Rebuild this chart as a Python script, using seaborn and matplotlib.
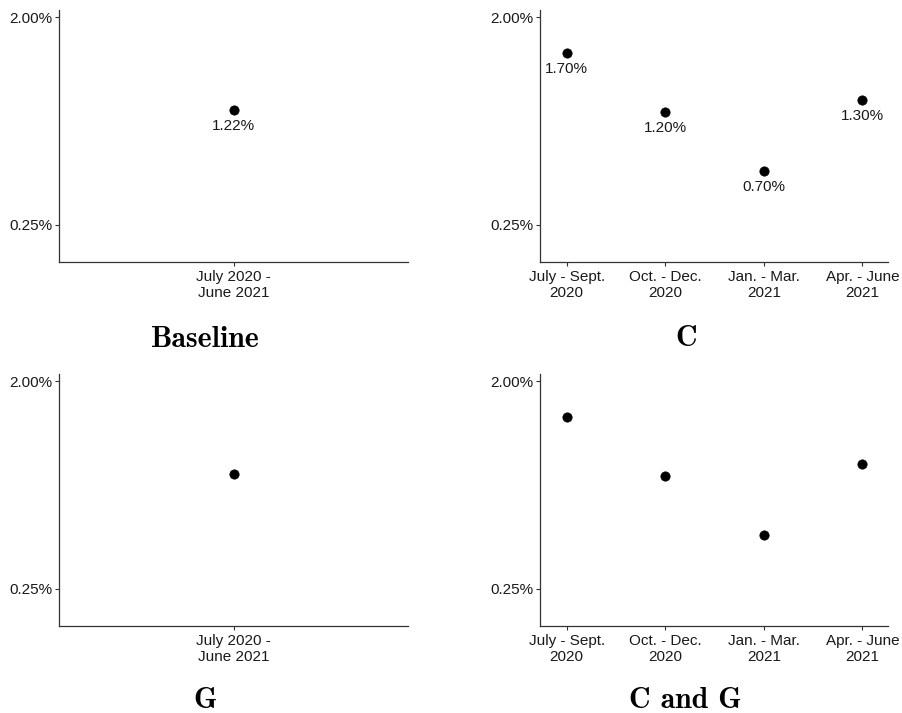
import matplotlib
matplotlib.use("Agg")
import matplotlib.pyplot as plt
import seaborn as sns
import pandas as pd

# данные
full_period = ["July 2020 -\nJune 2021"]
quarters = ["July - Sept.\n2020", "Oct. - Dec.\n2020", "Jan. - Mar.\n2021", "Apr. - June\n2021"]
baseline_vals = [1.22]
c_vals = [1.70, 1.20, 0.70, 1.30]
g_vals = [1.22]
cg_vals = [1.70, 1.20, 0.70, 1.30]
titles = ["Baseline", "C", "G", "C and G"]
ytick_vals = [0.25, 2.00]
ytick_labels = ["0.25%", "2.00%"]

sns.set_theme(style="ticks")
plt.rcParams["font.family"] = ["Liberation Sans", "DejaVu Sans"]

W, H = 902, 713
fig = plt.figure(figsize=(W / 100, H / 100), dpi=100)


def make_ax(left, right, top, bottom):
    return fig.add_axes([left / W, 1 - bottom / H, (right - left) / W, (bottom - top) / H])


panels = [
    (make_ax(59, 408, 10, 261.5), full_period, baseline_vals, True, (-1, 1)),
    (make_ax(540, 888, 10, 261.5), quarters, c_vals, True, (-0.27, 3.26)),
    (make_ax(59, 408, 374, 625.5), full_period, g_vals, False, (-1, 1)),
    (make_ax(540, 888, 374, 625.5), quarters, cg_vals, False, (-0.27, 3.26)),
]

for ax, cats, vals, show_labels, xlim in panels:
    df = pd.DataFrame({"period": cats, "share": vals})
    sns.scatterplot(data=df, x="period", y="share", ax=ax, color="black",
                    s=45, edgecolor="black", linewidth=0.5, zorder=3)
    if show_labels:
        for i, v in enumerate(vals):
            ax.annotate(f"{v:.2f}%", (i, v), xytext=(0, -16), textcoords="offset pixels",
                        ha="center", va="center", fontsize=11, color="#1a1a1a")
    ax.set_xlim(*xlim)
    ax.set_ylim(-0.06, 2.06)
    ax.set_yticks(ytick_vals)
    ax.set_yticklabels(ytick_labels)
    ax.set_xlabel("")
    ax.set_ylabel("")
    sns.despine(ax=ax)
    for side in ["left", "bottom"]:
        ax.spines[side].set_color("#333333")
        ax.spines[side].set_linewidth(0.9)
    ax.tick_params(axis="both", length=3, width=0.8, color="#333333",
                   labelsize=11, labelcolor="#1a1a1a", pad=2)
    ax.tick_params(axis="x", pad=3)

title_pos = [(205, 347), (686, 346), (205, 708), (685, 708)]
for t, (x, y) in zip(titles, title_pos):
    fig.text(x / W, 1 - y / H, t, ha="center", va="baseline", color="black",
             fontsize=21.5, family=["cmb10", "DejaVu Serif"], fontweight="bold")

fig.savefig("out.png", dpi=100)
